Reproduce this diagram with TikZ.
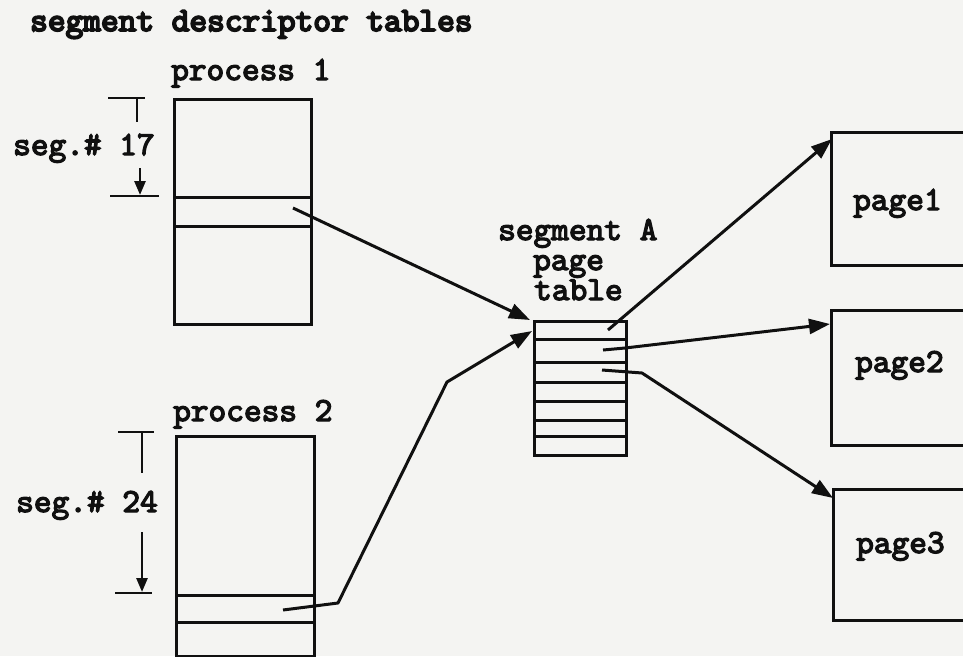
\documentclass[tikz,border=0pt]{standalone}
\usepackage{fontspec}
\usetikzlibrary{arrows.meta,calc}
% typewriter lettering
\newfontfamily\tw{lmmono10-regular}[Extension=.otf, FakeBold=3.8]
\newfontfamily\twbold{lmmono10-regular}[Extension=.otf, FakeBold=5.5]
\definecolor{paper}{RGB}{244,244,242}
\definecolor{ink}{RGB}{16,16,16}
\tikzset{
  box/.style={draw=ink, line width=3.4pt, inner sep=0pt, anchor=north west},
  rowline/.style={draw=ink, line width=3pt},
  lbl/.style={inner sep=0pt, anchor=base west, text=ink, font=\tw\fontsize{33.7}{36}\selectfont},
  ttl/.style={lbl, font=\twbold\fontsize{33.7}{36}\selectfont},
  conn/.style={draw=ink, line width=3pt, line join=round, -{Triangle[length=21pt,width=15pt]}},
  dimline/.style={draw=ink, line width=2.6pt},
  dimarrow/.style={dimline, -{Triangle[length=14pt,width=11pt]}}
}
\begin{document}
\begin{tikzpicture}[x=1pt,y=-1pt]
  \fill[paper] (0,0) rectangle (963,656);
  \useasboundingbox (0,0) rectangle (963,656);
  \clip (0,0) rectangle (963,656);

  % headings
  \node[ttl] (title) at (30,31) {segment descriptor tables};
  \node[lbl] (proc1) at (171,80) {process 1};
  \node[lbl] (proc2) at (173,421) {process 2};

  % descriptor table of process 1
  \node[box, minimum width=137pt, minimum height=225pt] (tab1) at (173,98) {};
  \draw[rowline] (173,197) -- (310,197);
  \draw[rowline] (173,226) -- (310,226);

  % descriptor table of process 2
  \node[box, minimum width=138pt, minimum height=220pt] (tab2) at (175,435) {};
  \draw[rowline] (175,595) -- (313,595);
  \draw[rowline] (175,622) -- (313,622);

  % segment number extents
  \node[lbl] (seg17) at (13,155) {seg.\# 17};
  \draw[dimline] (108,98) -- (145,98) (137,98) -- (137,122);
  \draw[dimarrow] (140,168) -- (140,195);
  \draw[dimline] (110,196) -- (159,196);

  \node[lbl] (seg24) at (16,512) {seg.\# 24};
  \draw[dimline] (118,432) -- (154,432) (142,432) -- (142,473);
  \draw[dimarrow] (142,532) -- (142,592);
  \draw[dimline] (115,593) -- (152,593);

  % page table of segment A (anchored at the baseline of its last line)
  \node[lbl, align=left, font=\tw\fontsize{33.7}{30}\selectfont] (segA) at (498,300)
    {segment A\\\hspace*{35pt}page\\\hspace*{36pt}table};
  \node[box, minimum width=92pt, minimum height=134pt] (pt) at (533,320) {};
  \foreach \yy in {339,362,382,401,420,436}
    \draw[rowline] (533,\yy) -- (625,\yy);

  % pages
  \node[box, minimum width=160pt, minimum height=133pt] (pg1) at (830,131) {};
  \node[box, minimum width=160pt, minimum height=135pt] (pg2) at (830,309) {};
  \node[box, minimum width=160pt, minimum height=131pt] (pg3) at (832,488) {};
  \node[lbl] (pg1txt) at (853,210) {page1};
  \node[lbl] (pg2txt) at (855,372) {page2};
  \node[lbl] (pg3txt) at (856,553) {page3};

  % entry points of the connectors
  \coordinate (e17) at (293,208);
  \coordinate (e24) at (283,610);
  \coordinate (b24a) at (338,603);
  \coordinate (b24b) at (447,382);
  \coordinate (r1) at (608,330);
  \coordinate (r2) at (603,350);
  \coordinate (r2b) at (625,348);
  \coordinate (r3) at (602,370);
  \coordinate (r3b) at (642,373);

  % connectors
  \draw[conn] (e17) -- ($(pt.north west)+(-3,0)$);
  \draw[conn] (e24) -- (b24a) -- (b24b) -- ($(pt.north west)+(-1,11)$);
  \draw[conn] (r1) -- ($(pg1.north west)+(2,8)$);
  \draw[conn] (r2) -- (r2b) -- ($(pg2.north west)+(0,15)$);
  \draw[conn] (r3) -- (r3b) -- ($(pg3.north west)+(1,10)$);
\end{tikzpicture}
\end{document}
